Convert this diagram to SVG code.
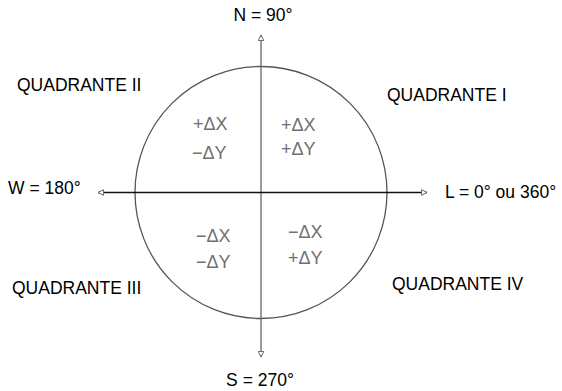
<svg xmlns="http://www.w3.org/2000/svg" width="562" height="391" viewBox="0 0 562 391">
<defs>
<style>
.lbl{font-family:"Liberation Sans",Arial,sans-serif;font-size:17.5px;fill:#000}
.q{font-family:"Liberation Sans",Arial,sans-serif;font-size:18px;fill:#707070}
.ax{fill:none;stroke-width:1.3}
</style>
<marker id="ah" viewBox="0 0 10 10" refX="9" refY="5" markerWidth="7" markerHeight="7" markerUnits="userSpaceOnUse" orient="auto">
<path d="M1,1 L9,5 L1,9 Z" fill="#fff" stroke="#555" stroke-width="1.3"/>
</marker>
</defs>
<rect width="562" height="391" fill="#fff"/>
<g id="circle"><circle cx="261" cy="192.5" r="126" fill="none" stroke="#555" stroke-width="1.3"/></g>
<g id="connectors">
<line class="ax" x1="261" y1="192.5" x2="261" y2="35" stroke="#666" marker-end="url(#ah)"/>
<line class="ax" x1="261" y1="192.5" x2="261" y2="357" stroke="#666" marker-end="url(#ah)"/>
<line class="ax" x1="261" y1="192.5" x2="98" y2="192.5" stroke="#111" marker-end="url(#ah)"/>
<line class="ax" x1="261" y1="192.5" x2="427" y2="192.5" stroke="#111" marker-end="url(#ah)"/>
</g>
<g id="N"><text class="lbl" x="263" y="21" text-anchor="middle">N = 90°</text></g>
<g id="S"><text class="lbl" x="260" y="386" text-anchor="middle">S = 270°</text></g>
<g id="W"><text class="lbl" x="8" y="194">W = 180°</text></g>
<g id="L"><text class="lbl" x="445" y="198">L = 0° ou 360°</text></g>
<g id="QII"><text class="lbl" x="17" y="91">QUADRANTE II</text></g>
<g id="QI"><text class="lbl" x="387" y="101">QUADRANTE I</text></g>
<g id="QIII"><text class="lbl" x="12" y="294">QUADRANTE III</text></g>
<g id="QIV"><text class="lbl" x="392" y="290">QUADRANTE IV</text></g>
<g id="dQII"><text class="q" x="193" y="130">+ΔX</text><text class="q" x="192" y="159">−ΔY</text></g>
<g id="dQI"><text class="q" x="281" y="131">+ΔX</text><text class="q" x="281" y="155">+ΔY</text></g>
<g id="dQIII"><text class="q" x="196" y="242">−ΔX</text><text class="q" x="196" y="268">−ΔY</text></g>
<g id="dQIV"><text class="q" x="288" y="238">−ΔX</text><text class="q" x="288" y="264">+ΔY</text></g>
</svg>
